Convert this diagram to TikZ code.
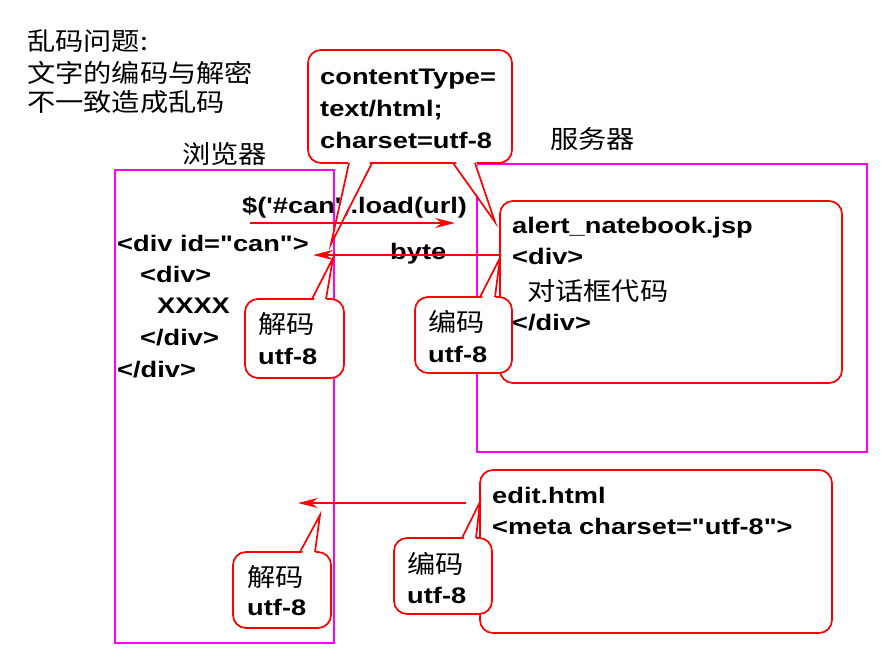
\documentclass[tikz,border=0pt]{standalone}
\usepackage{fontspec}
\setmainfont{Liberation Sans}
\newfontfamily\cjk{Noto Sans CJK SC}
\usetikzlibrary{arrows.meta}
\definecolor{boxpink}{RGB}{255,0,255}
\definecolor{callred}{RGB}{255,0,0}

\begin{document}
\begin{tikzpicture}[x=1pt,y=-1pt,
		code/.style = {font=\bfseries\fontsize{22.5}{27}\selectfont, xscale=1.21, anchor=base west, inner sep=0pt},
		hanzi/.style = {font=\cjk\fontsize{25}{30}\selectfont, xscale=1.13, anchor=base west, inner sep=0pt},
		bubble/.style = {draw=callred, fill=white, line width=1.7pt, rounded corners=13pt},
		frame/.style = {draw=boxpink, line width=1.7pt},
		flow/.style = {draw=callred, line width=1.7pt, -{Stealth[length=20pt,width=10pt,inset=7pt]}},
		tail/.style = {draw=callred, line width=1.7pt}]
		\useasboundingbox (0,0) rectangle (894,653);
		
		% browser and server
		\draw[frame] (115,170) rectangle (334,643);
		\draw[frame] (477,164) rectangle (867,452);
		\node[hanzi] (browser) at (182,163) {浏览器};
		\node[hanzi] (server) at (550,148) {服务器};
		
		\node[hanzi] (t1) at (27,50) {乱码问题:};
		\node[hanzi] (t2) at (27,82) {文字的编码与解密};
		\node[hanzi] (t3) at (27,111) {不一致造成乱码};
		
		% pages on the server
		\draw[bubble] (500,201) rectangle (842,383);
		\node[code] (jsp) at (512,233) {alert\_natebook.jsp};
		\node[code] (jsp2) at (512,264) {<div>};
		\node[hanzi] (jsp3) at (527,300) {对话框代码};
		\node[code] (jsp4) at (512,330) {</div>};
		
		\draw[bubble] (480,470) rectangle (832,633);
		\node[code] (edit) at (492,503) {edit.html};
		\node[code] (edit2) at (492,534) {<meta charset=\textquotedbl utf-8\textquotedbl>};
		
		% page in the browser
		\node[code] (d1) at (117,251) {<div id=\textquotedbl can\textquotedbl>};
		\node[code] (d2) at (140,282) {<div>};
		\node[code] (d3) at (157,313) {XXXX};
		\node[code] (d4) at (140,345) {</div>};
		\node[code] (d5) at (117,377) {</div>};
		
		\node[code] (load) at (242,213) {\$(\textquotesingle\#can\textquotesingle).load(url)};
		\node[code] (byte) at (390,259) {byte};
		
		% callouts
		\draw[bubble] (308,50) rectangle (512,163);
		\fill[white] (349,158) -- (331,244) -- (372,158) -- cycle;
		\draw[tail] (349,163) -- (331,244) -- (372,163);
		\fill[white] (453,158) -- (495,222) -- (475,158) -- cycle;
		\draw[tail] (453,163) -- (495,222) -- (475,163);
		\node[code] (ct1) at (320,84) {contentType=};
		\node[code] (ct2) at (320,116) {text/html;};
		\node[code] (ct3) at (320,148) {charset=utf-8};
		
		\draw[bubble] (245,299) rectangle (344,378);
		\fill[white] (312,304) -- (333,258) -- (326,304) -- cycle;
		\draw[tail] (312,299) -- (333,258) -- (326,299);
		\node[hanzi] (de1) at (258,333) {解码};
		\node[code] (de1u) at (258,364) {utf-8};
		
		\draw[bubble] (415,297) rectangle (512,373);
		\fill[white] (480,302) -- (500,258) -- (495,302) -- cycle;
		\draw[tail] (480,297) -- (500,258) -- (495,297);
		\node[hanzi] (en1) at (428,331) {编码};
		\node[code] (en1u) at (428,362) {utf-8};
		
		\draw[bubble] (233,552) rectangle (331,628);
		\fill[white] (300,557) -- (320,515) -- (315,557) -- cycle;
		\draw[tail] (300,552) -- (320,515) -- (315,552);
		\node[hanzi] (de2) at (247,586) {解码};
		\node[code] (de2u) at (247,615) {utf-8};
		
		\draw[bubble] (394,538) rectangle (492,614);
		\fill[white] (462,543) -- (480,502) -- (476,543) -- cycle;
		\draw[tail] (462,538) -- (480,502) -- (476,538);
		\node[hanzi] (en2) at (407,573) {编码};
		\node[code] (en2u) at (407,603) {utf-8};
		
		% arrows
		\coordinate (la) at (250,223);
		\coordinate (lb) at (455,223);
		\coordinate (ba) at (500,255);
		\coordinate (bb) at (313,255);
		\coordinate (ea) at (466,503);
		\coordinate (eb) at (298,503);
		\draw[flow] (la) -- (lb);
		\draw[flow] (ba) -- (bb);
		\draw[flow] (ea) -- (eb);
	\end{tikzpicture}
\end{document}
